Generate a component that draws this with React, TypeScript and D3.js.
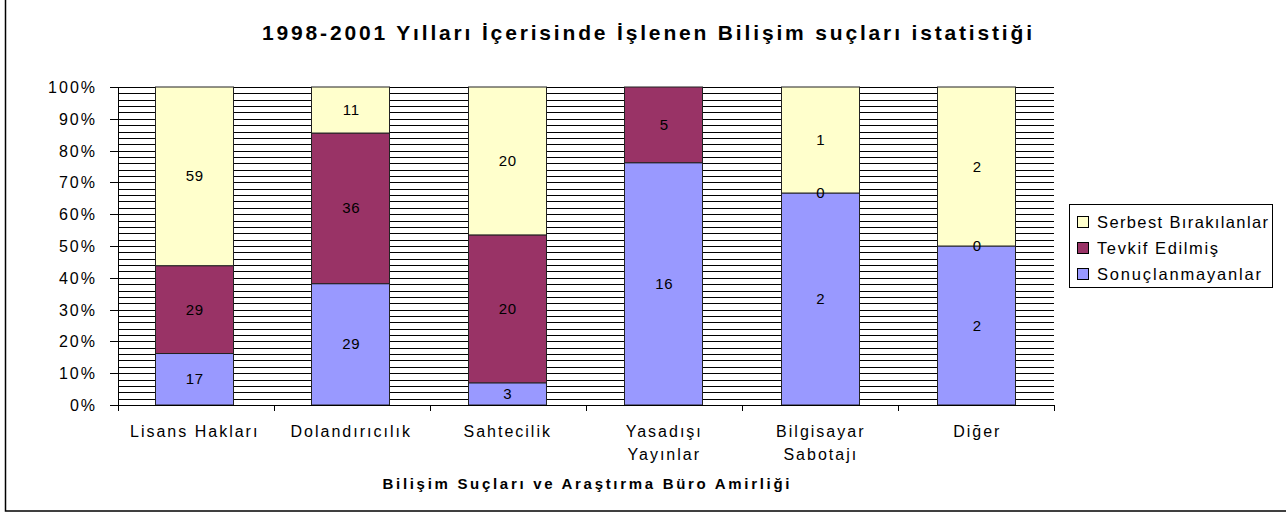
import React from 'react';
import * as d3 from 'd3';

const categories = ['Lisans Hakları', 'Dolandırıcılık', 'Sahtecilik', 'Yasadışı Yayınlar', 'Bilgisayar Sabotajı', 'Diğer'];
const categoryLines = [['Lisans Hakları'], ['Dolandırıcılık'], ['Sahtecilik'], ['Yasadışı', 'Yayınlar'], ['Bilgisayar', 'Sabotajı'], ['Diğer']];
const sonuclanmayanlar = [17, 29, 3, 16, 2, 2];
const tevkifEdilmis = [29, 36, 20, 5, 0, 0];
const serbestBirakilanlar: (number | null)[] = [59, 11, 20, null, 1, 2];
const seriesNames = ['Sonuçlanmayanlar', 'Tevkif Edilmiş', 'Serbest Bırakılanlar'];
const seriesColors = ['#9999FF', '#993366', '#FFFFCC'];
const legendWidths = [164, 121, 171];
const yTicks = [0, 0.1, 0.2, 0.3, 0.4, 0.5, 0.6, 0.7, 0.8, 0.9, 1];

const W = 1286;
const H = 513;
const FONT = '"Liberation Sans", Arial, sans-serif';

export default function App() {
  const margin = { left: 118, right: 1054, top: 87, bottom: 405 };

  const x = d3.scaleBand<string>()
    .domain(categories)
    .range([margin.left, margin.right])
    .paddingInner(0.5)
    .paddingOuter(0.24);

  const y = d3.scaleLinear().domain([0, 1]).range([margin.bottom, margin.top]);

  const rows = categories.map((c, i) => ({
    cat: c,
    s0: sonuclanmayanlar[i],
    s1: tevkifEdilmis[i],
    s2: serbestBirakilanlar[i] ?? 0,
  }));
  const raw = [sonuclanmayanlar, tevkifEdilmis, serbestBirakilanlar];

  const stacked = d3.stack<any>()
    .keys(['s0', 's1', 's2'])
    .offset(d3.stackOffsetExpand)(rows);

  // hatched background: a line every 2%
  const hatch = d3.range(0, 51).map((i) => i / 50);
  const step = (margin.right - margin.left) / categories.length;
  const boundaries = d3.range(0, categories.length + 1).map((i) => margin.left + i * step);

  const legendItems = [2, 1, 0];

  return (
    <div style={{ position: 'absolute', left: 0, top: 0 }}>
      <svg width={W} height={H} style={{ display: 'block', fontFamily: FONT }}>
        <rect x={0} y={0} width={W} height={H} fill="#fff" />
        <rect x={5.5} y={-5} width={W + 10} height={516} fill="none" stroke="#000" strokeWidth={1.5} />

        <text x={647} y={40} textAnchor="middle" fontSize={21} fontWeight="bold" textLength={770} lengthAdjust="spacing">
          1998-2001 Yılları İçerisinde İşlenen Bilişim suçları istatistiği
        </text>

        {/* hatch lines */}
        {hatch.map((v) => (
          <line key={v} x1={margin.left} x2={margin.right} y1={Math.round(y(v)) + 0.5} y2={Math.round(y(v)) + 0.5} stroke="#000" strokeWidth={1} />
        ))}

        {/* bars */}
        {stacked.map((layer, si) => (
          <g key={si}>
            {layer.map((d, ci) => {
              const y0 = y(d[0]);
              const y1 = y(d[1]);
              const bx = x(categories[ci])!;
              return y0 - y1 > 0.01 ? (
                <rect key={ci} x={Math.round(bx) - 0.5} y={y1} width={Math.round(x.bandwidth())} height={y0 - y1}
                  fill={seriesColors[si]} stroke="#222" strokeWidth={1} />
              ) : null;
            })}
          </g>
        ))}

        {/* data labels */}
        {stacked.map((layer, si) => (
          <g key={'l' + si}>
            {layer.map((d, ci) => {
              const v = raw[si][ci];
              if (v === null || v === undefined) return null;
              const cy = (y(d[0]) + y(d[1])) / 2;
              return (
                <text key={ci} x={x(categories[ci])! + x.bandwidth() / 2} y={cy + 5} textAnchor="middle"
                  fontSize={15} letterSpacing={0.6} fill="#000">
                  {v}
                </text>
              );
            })}
          </g>
        ))}

        {/* y axis */}
        <line x1={margin.left + 0.5} x2={margin.left + 0.5} y1={margin.top} y2={margin.bottom + 1} stroke="#000" />
        {yTicks.map((t) => (
          <g key={t}>
            <line x1={margin.left - 8} x2={margin.left} y1={Math.round(y(t)) + 0.5} y2={Math.round(y(t)) + 0.5} stroke="#000" />
            <text x={97} y={y(t) + 6} textAnchor="end" fontSize={16} letterSpacing={2}>
              {d3.format('.0%')(t)}
            </text>
          </g>
        ))}

        {/* x axis */}
        <line x1={margin.left} x2={margin.right + 1} y1={margin.bottom + 0.5} y2={margin.bottom + 0.5} stroke="#000" />
        {boundaries.map((b, i) => (
          <line key={i} x1={Math.round(b) + 0.5} x2={Math.round(b) + 0.5} y1={margin.bottom} y2={margin.bottom + 6} stroke="#000" />
        ))}
        {categoryLines.map((lines, ci) => (
          <text key={ci} x={x(categories[ci])! + x.bandwidth() / 2} y={437} textAnchor="middle" fontSize={16} letterSpacing={2}>
            {lines.map((ln, li) => (
              <tspan key={li} x={x(categories[ci])! + x.bandwidth() / 2} dy={li === 0 ? 0 : 23}>{ln}</tspan>
            ))}
          </text>
        ))}

        <text x={(margin.left + margin.right) / 2} y={489} textAnchor="middle" fontSize={15} fontWeight="bold" textLength={407} lengthAdjust="spacing">
          Bilişim Suçları ve Araştırma Büro Amirliği
        </text>

        {/* legend */}
        <rect x={1069.5} y={204.5} width={203} height={83} fill="#fff" stroke="#000" />
        {legendItems.map((si, i) => (
          <g key={si} transform={`translate(1077, ${222 + i * 26})`}>
            <rect x={0.5} y={-5.5} width={11} height={11} fill={seriesColors[si]} stroke="#000" />
            <text x={20} y={6} fontSize={16.5} textLength={legendWidths[si]} lengthAdjust="spacing">{seriesNames[si]}</text>
          </g>
        ))}
      </svg>
    </div>
  );
}
